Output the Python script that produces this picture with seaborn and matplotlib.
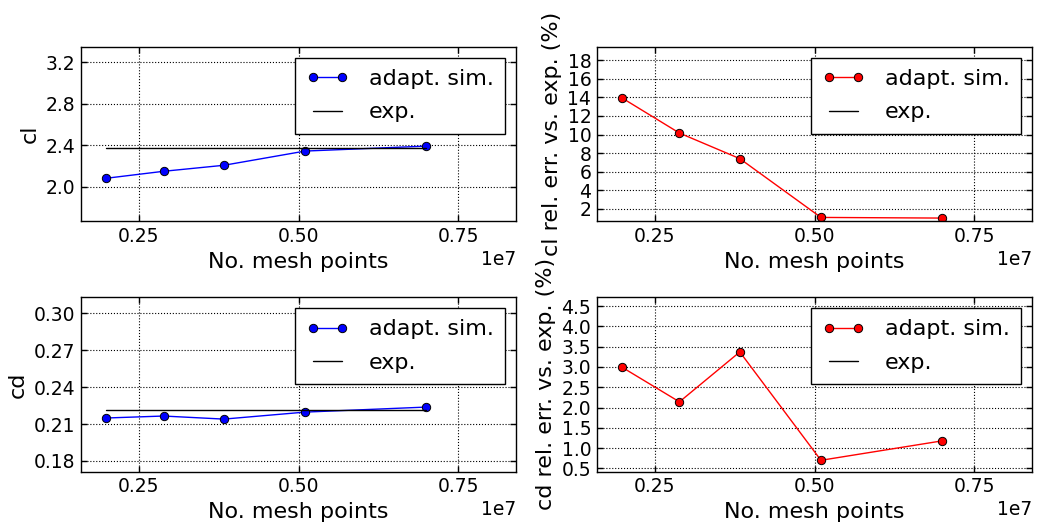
import numpy as np
import matplotlib
matplotlib.use("Agg")
import matplotlib.pyplot as plt
import seaborn as sns

# ==========================================================
# DATA
# ==========================================================

mesh_points = [1.99e6, 2.885e6, 3.83e6, 5.10e6, 7.00e6]

cl_sim = [2.08, 2.147, 2.205, 2.342, 2.39]
cl_exp = 2.368

cd_sim = [0.2149, 0.2165, 0.2140, 0.2197, 0.2238]
cd_exp = 0.2211

cl_err = [13.93, 10.16, 7.40, 1.06, 0.99]
cd_err = [2.99, 2.14, 3.37, 0.70, 1.18]
err_exp = 0.0

x_ticks = [0.25e7, 0.50e7, 0.75e7]
cl_ticks = [2.0, 2.4, 2.8, 3.2]
cd_ticks = [0.18, 0.21, 0.24, 0.27, 0.30]
cl_err_ticks = [2, 4, 6, 8, 10, 12, 14, 16, 18]
cd_err_ticks = [0.5, 1.0, 1.5, 2.0, 2.5, 3.0, 3.5, 4.0, 4.5]

cl_lim = [1.664, 3.346]
cd_lim = [0.1712, 0.3133]
cl_err_lim = [0.63, 19.45]
cd_err_lim = [0.42, 4.72]

# ==========================================================
# STYLE
# ==========================================================

sns.set_theme(style="white")
plt.rcParams["font.family"] = ["DejaVu Sans"]
plt.rcParams["axes.edgecolor"] = "black"
plt.rcParams["axes.linewidth"] = 1.0
plt.rcParams["text.color"] = "black"
plt.rcParams["axes.labelcolor"] = "black"
plt.rcParams["xtick.color"] = "black"
plt.rcParams["ytick.color"] = "black"


def draw_panel(ax, values, ref, color, ylabel, ticks, ylim):

    sns.lineplot(
        x=mesh_points,
        y=values,
        ax=ax,
        color=color,
        marker="o",
        markersize=6,
        markeredgecolor="black",
        markeredgewidth=0.7,
        linewidth=1,
        label="adapt. sim."
    )

    sns.lineplot(
        x=[mesh_points[0], mesh_points[-1]],
        y=[ref, ref],
        ax=ax,
        color="black",
        linewidth=1,
        label="exp."
    )

    ax.set_xlim(0.8 * mesh_points[0], 1.2 * mesh_points[-1])
    ax.set_ylim(ylim)
    ax.set_xticks(x_ticks)
    ax.set_yticks(ticks)
    ax.ticklabel_format(axis="x", style="sci", scilimits=(7, 7))

    ax.grid(True, linestyle=":", color="black", linewidth=0.8)

    ax.tick_params(
        direction="in",
        top=True,
        right=True,
        bottom=True,
        left=True,
        length=4,
        width=1,
        color="black",
        labelsize=13.5,
        pad=4
    )
    ax.xaxis.get_offset_text().set_fontsize(13.5)

    ax.set_xlabel("No. mesh points", fontsize=16)
    ax.set_ylabel(ylabel, fontsize=16)

    ax.legend(
        loc="upper right",
        numpoints=2,
        fontsize=16,
        frameon=True,
        fancybox=False,
        edgecolor="black",
        framealpha=1,
        handlelength=1.9,
        handletextpad=0.9,
        labelspacing=0.6,
        borderpad=0.5
    )


fig, axes = plt.subplots(2, 2, figsize=(10.37, 5.27), dpi=100)

draw_panel(axes[0, 0], cl_sim, cl_exp, "blue", "cl", cl_ticks, cl_lim)
draw_panel(axes[0, 1], cl_err, err_exp, "red", "cl rel. err. vs. exp. (%)",
           cl_err_ticks, cl_err_lim)
draw_panel(axes[1, 0], cd_sim, cd_exp, "blue", "cd", cd_ticks, cd_lim)
draw_panel(axes[1, 1], cd_err, err_exp, "red", "cd rel. err. vs. exp. (%)",
           cd_err_ticks, cd_err_lim)

plt.subplots_adjust(
    left=0.078,
    right=0.995,
    bottom=0.105,
    top=0.911,
    wspace=0.186,
    hspace=0.434
)

plt.savefig("out.png", dpi=100)
